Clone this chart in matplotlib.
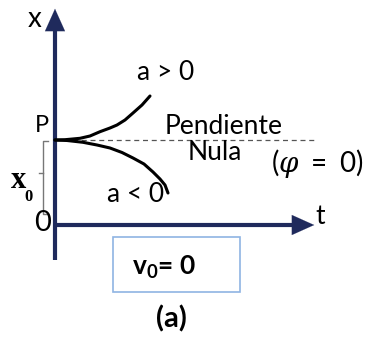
import matplotlib
matplotlib.use("Agg")
import matplotlib.pyplot as plt
from matplotlib.patches import Rectangle

# curves (t, x), origin at axes crossing, P at x = 0.85
P_LEVEL = 0.85
t_up = [0.0, 0.10, 0.25, 0.35, 0.45, 0.55, 0.62, 0.70, 0.78, 0.87, 0.95]
x_up = [0.85, 0.853, 0.867, 0.89, 0.933, 0.97, 1.0, 1.05, 1.12, 1.20, 1.29]
t_down = [0.0, 0.12, 0.28, 0.42, 0.55, 0.67, 0.78, 0.89, 0.98, 1.05, 1.10, 1.13]
x_down = [0.85, 0.845, 0.827, 0.80, 0.77, 0.725, 0.67, 0.61, 0.53, 0.46, 0.40, 0.32]

NAVY = "#1f2a5c"
FONT = "Lato"

plt.rcParams["mathtext.fontset"] = "custom"
plt.rcParams["mathtext.rm"] = "Lato"
plt.rcParams["mathtext.bf"] = "Lato:bold"
plt.rcParams["mathtext.it"] = "DejaVu Serif:italic"

fig = plt.figure(figsize=(3.71, 3.37), dpi=100)
ax = fig.add_axes([0, 0, 1, 1])
ax.set_xlim(-0.55, 3.16)
ax.set_ylim(-1.12, 2.25)
ax.axis("off")

# axes with arrows
ax.plot([0, 0], [-0.35, 1.95], color=NAVY, lw=3, solid_capstyle="butt")
ax.annotate("", xy=(0, 2.19), xytext=(0, 1.9),
            arrowprops=dict(arrowstyle="-|>,head_length=1.0,head_width=0.45",
                            color=NAVY, lw=0.1, mutation_scale=16))
ax.plot([0, 2.5], [0, 0], color=NAVY, lw=3, solid_capstyle="butt")
ax.annotate("", xy=(2.62, 0), xytext=(2.4, 0),
            arrowprops=dict(arrowstyle="-|>,head_length=1.0,head_width=0.45",
                            color=NAVY, lw=0.1, mutation_scale=16))

# zero-slope dashed line
ax.plot([0, 2.62], [P_LEVEL, P_LEVEL], color="#555555", lw=0.9, ls=(0, (4, 3)))

# position curves
ax.plot(t_up, x_up, color="black", lw=2.2, solid_capstyle="round")
ax.plot(t_down, x_down, color="black", lw=2.2, solid_capstyle="round")

# bracket for x0
bx = -0.12
ax.plot([bx + 0.05, bx, bx, bx + 0.05], [P_LEVEL - 0.01, P_LEVEL - 0.01, 0.11, 0.11],
        color="#777777", lw=1)
ax.plot([bx, bx - 0.04], [0.52, 0.52], color="#777777", lw=1)

# labels
kw = dict(family=FONT, ha="center", va="center")
ax.text(-0.20, 2.06, "x", fontsize=20, **kw)
ax.text(-0.13, 1.0, "P", fontsize=17, **kw)
ax.text(-0.125, 0.02, "0", fontsize=21, **kw)
ax.text(2.65, 0.09, "t", fontsize=19, **kw)
ax.text(1.11, 1.53, "a > 0", fontsize=19, **kw)
ax.text(0.81, 0.30, "a < 0", fontsize=19, **kw)
ax.text(1.69, 0.98, "Pendiente", fontsize=19, **kw)
ax.text(1.60, 0.72, "Nula", fontsize=19, **kw)
ax.text(2.62, 0.61, r"$(\varphi\;=\;0)$", fontsize=20, ha="center", va="center")
ax.text(-0.37, 0.37, "x", fontsize=22, family="Liberation Serif", fontweight="bold",
        ha="center", va="baseline")
ax.text(-0.265, 0.24, "0", fontsize=12, family="Liberation Serif", fontweight="bold",
        ha="center", va="baseline")

# v0 box
ax.add_patch(Rectangle((0.58, -0.67), 1.27, 0.55, fill=False, ec="#8fb4e3", lw=1.2))
ax.text(1.09, -0.42, r"v$_\mathbf{0}$= 0", fontsize=19, fontweight="bold", **kw)
ax.text(1.16, -0.94, "(a)", fontsize=21, fontweight="bold", **kw)

fig.savefig("out.png", dpi=100)
